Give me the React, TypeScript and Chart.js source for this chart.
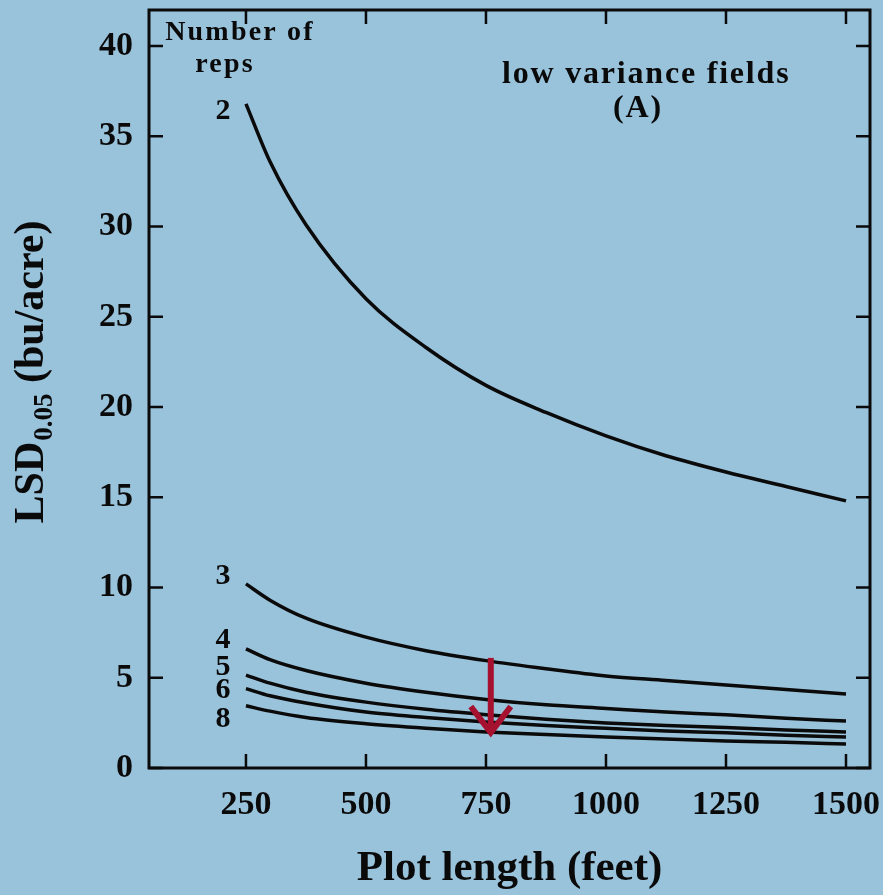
import React, { useEffect, useRef } from "react";
import { Chart, registerables } from "chart.js";

Chart.register(...registerables);

// ---- data ----
const PLOT_LENGTHS = [250, 300, 375, 500, 625, 750, 875, 1000, 1125, 1250, 1375, 1500];
const LSD_REPS_2 = [36.8, 33.6, 30.1, 26.0, 23.3, 21.2, 19.7, 18.4, 17.3, 16.4, 15.6, 14.8];
const LSD_REPS_3 = [10.2, 9.3, 8.3, 7.25, 6.5, 5.95, 5.5, 5.1, 4.85, 4.6, 4.35, 4.1];
const LSD_REPS_4 = [6.6, 6.0, 5.4, 4.7, 4.2, 3.8, 3.5, 3.3, 3.1, 2.95, 2.75, 2.6];
const LSD_REPS_5 = [5.15, 4.7, 4.2, 3.65, 3.25, 2.95, 2.7, 2.5, 2.35, 2.25, 2.1, 2.0];
const LSD_REPS_6 = [4.4, 4.0, 3.6, 3.1, 2.8, 2.55, 2.35, 2.2, 2.05, 1.95, 1.82, 1.72];
const LSD_REPS_8 = [3.45, 3.15, 2.8, 2.45, 2.2, 2.0, 1.85, 1.72, 1.6, 1.5, 1.42, 1.33];

const REP_NAMES = ["2", "3", "4", "5", "6", "8"];
const REP_SERIES = [LSD_REPS_2, LSD_REPS_3, LSD_REPS_4, LSD_REPS_5, LSD_REPS_6, LSD_REPS_8];
const REP_LABEL_Y = [36.4, 10.6, 7.1, 5.6, 4.3, 2.72];

const X_TICKS = [250, 500, 750, 1000, 1250, 1500];
const Y_TICKS = [0, 5, 10, 15, 20, 25, 30, 35, 40];
const X_MIN = 48;
const X_MAX = 1550;
const Y_MIN = 0;
const Y_MAX = 42;

const X_TITLE = "Plot length (feet)";
const Y_TITLE_MAIN = "LSD";
const Y_TITLE_SUB = "0.05";
const Y_TITLE_REST = " (bu/acre)";
const LEGEND_TITLE = ["Number of", "reps"];
const PANEL_TITLE = ["low variance fields", "(A)"];

const ARROW_X = 760;
const ARROW_Y_FROM = 6.1;
const ARROW_Y_TO = 1.8;

const SERIF = "'Liberation Serif', 'Times New Roman', serif";
const BG = "#99c2db";
const INK = "#0a0a0a";
const ARROW_COLOR = "#a5112e";

const decorPlugin = {
  id: "decor",
  afterDraw(chart: any) {
    const { ctx, chartArea: a, scales } = chart;
    const xs = scales.x;
    const ys = scales.y;
    ctx.save();

    // frame
    ctx.strokeStyle = INK;
    ctx.lineWidth = 3;
    ctx.strokeRect(a.left, a.top, a.right - a.left, a.bottom - a.top);

    // inward ticks on all four sides
    const TL = 14;
    ctx.lineWidth = 2.5;
    ctx.beginPath();
    X_TICKS.forEach((v) => {
      const px = xs.getPixelForValue(v);
      ctx.moveTo(px, a.bottom);
      ctx.lineTo(px, a.bottom - TL);
      ctx.moveTo(px, a.top);
      ctx.lineTo(px, a.top + TL);
    });
    Y_TICKS.forEach((v) => {
      const py = ys.getPixelForValue(v);
      ctx.moveTo(a.left, py);
      ctx.lineTo(a.left + TL, py);
      ctx.moveTo(a.right, py);
      ctx.lineTo(a.right - TL, py);
    });
    ctx.stroke();

    // rep labels
    ctx.fillStyle = INK;
    ctx.font = `bold 30px ${SERIF}`;
    ctx.textAlign = "center";
    ctx.textBaseline = "middle";
    const x0 = xs.getPixelForValue(PLOT_LENGTHS[0]) - 23;
    REP_NAMES.forEach((n, i) => {
      ctx.fillText(n, x0, ys.getPixelForValue(REP_LABEL_Y[i]));
    });

    // "Number of reps"
    ctx.textBaseline = "alphabetic";
    (ctx as any).letterSpacing = "2.2px";
    ctx.font = `bold 28px ${SERIF}`;
    ctx.fillText(LEGEND_TITLE[0], a.left + 91, a.top + 30);
    ctx.fillText(LEGEND_TITLE[1], a.left + 76, a.top + 62);

    // panel title
    (ctx as any).letterSpacing = "1.8px";
    ctx.font = `bold 32px ${SERIF}`;
    ctx.textAlign = "left";
    ctx.fillText(PANEL_TITLE[0], a.left + 353, a.top + 73);
    ctx.textAlign = "center";
    ctx.fillText(PANEL_TITLE[1], a.left + 489, a.top + 107);
    (ctx as any).letterSpacing = "0px";

    // y-axis title with subscript
    ctx.save();
    const mainFont = `bold 42px ${SERIF}`;
    const subFont = `bold 27px ${SERIF}`;
    ctx.font = mainFont;
    const w1 = ctx.measureText(Y_TITLE_MAIN).width;
    const w3 = ctx.measureText(Y_TITLE_REST).width;
    ctx.font = subFont;
    const w2 = ctx.measureText(Y_TITLE_SUB).width;
    const total = w1 + w2 + w3 + 1;
    const cy = (a.top + a.bottom) / 2 - 17;
    ctx.translate(43, cy + total / 2);
    ctx.rotate(-Math.PI / 2);
    ctx.textAlign = "left";
    ctx.textBaseline = "alphabetic";
    ctx.font = mainFont;
    ctx.fillText(Y_TITLE_MAIN, 0, 0);
    ctx.font = subFont;
    ctx.fillText(Y_TITLE_SUB, w1 + 1, 9);
    ctx.font = mainFont;
    ctx.fillText(Y_TITLE_REST, w1 + w2 + 1, 0);
    ctx.restore();

    // red arrow
    const ax = xs.getPixelForValue(ARROW_X);
    const ay1 = ys.getPixelForValue(ARROW_Y_FROM);
    const ay2 = ys.getPixelForValue(ARROW_Y_TO);
    ctx.strokeStyle = ARROW_COLOR;
    ctx.lineWidth = 6;
    ctx.lineCap = "butt";
    ctx.beginPath();
    ctx.moveTo(ax, ay1);
    ctx.lineTo(ax, ay2 - 3);
    ctx.stroke();
    ctx.beginPath();
    ctx.lineJoin = "miter";
    ctx.moveTo(ax - 20, ay2 - 29);
    ctx.lineTo(ax, ay2 - 3);
    ctx.lineTo(ax + 20, ay2 - 29);
    ctx.stroke();

    ctx.restore();
  },
};

export default function App() {
  const ref = useRef<HTMLCanvasElement | null>(null);

  useEffect(() => {
    document.body.style.margin = "0";
    document.body.style.background = BG;
    const canvas = ref.current;
    if (!canvas) return;
    const chart = new Chart(canvas, {
      type: "line",
      data: {
        datasets: REP_SERIES.map((series, i) => ({
          label: REP_NAMES[i],
          data: PLOT_LENGTHS.map((x, j) => ({ x, y: series[j] })),
          borderColor: INK,
          borderWidth: 3.5,
          pointRadius: 0,
          fill: false,
          cubicInterpolationMode: "monotone" as const,
        })),
      },
      options: {
        animation: false,
        responsive: false,
        devicePixelRatio: 1,
        layout: { padding: { left: 0, top: 10, right: 13, bottom: 0 } },
        plugins: {
          legend: { display: false },
          tooltip: { enabled: false },
        },
        scales: {
          x: {
            type: "linear",
            min: X_MIN,
            max: X_MAX,
            bounds: "data",
            afterBuildTicks: (s: any) => {
              s.ticks = X_TICKS.map((v) => ({ value: v }));
            },
            afterFit: (s: any) => {
              s.height = 127;
              s.paddingLeft = 0;
              s.paddingRight = 0;
              s.paddingTop = 0;
              s.paddingBottom = 0;
            },
            grid: { display: false, drawTicks: false },
            border: { display: false },
            ticks: {
              color: INK,
              padding: 17,
              maxRotation: 0,
              autoSkip: false,
              font: { family: SERIF, size: 34, weight: "bold" },
              callback: (v: any) => String(v),
            },
            title: {
              display: true,
              text: X_TITLE,
              color: INK,
              padding: { top: 0, bottom: 0 },
              font: { family: SERIF, size: 43, weight: "bold" },
            },
          },
          y: {
            type: "linear",
            min: Y_MIN,
            max: Y_MAX,
            bounds: "data",
            afterBuildTicks: (s: any) => {
              s.ticks = Y_TICKS.map((v) => ({ value: v }));
            },
            afterFit: (s: any) => {
              s.width = 149;
              s.paddingLeft = 0;
              s.paddingRight = 0;
              s.paddingTop = 0;
              s.paddingBottom = 0;
            },
            grid: { display: false, drawTicks: false },
            border: { display: false },
            ticks: {
              color: INK,
              padding: 16,
              autoSkip: false,
              font: { family: SERIF, size: 34, weight: "bold" },
              callback: (v: any) => String(v),
            },
          },
        },
      },
      plugins: [decorPlugin],
    });
    return () => chart.destroy();
  }, []);

  return (
    <div
      style={{
        position: "fixed",
        left: 0,
        top: 0,
        width: 883,
        height: 895,
        background: BG,
      }}
    >
      <canvas ref={ref} width={883} height={895} style={{ display: "block" }} />
    </div>
  );
}
